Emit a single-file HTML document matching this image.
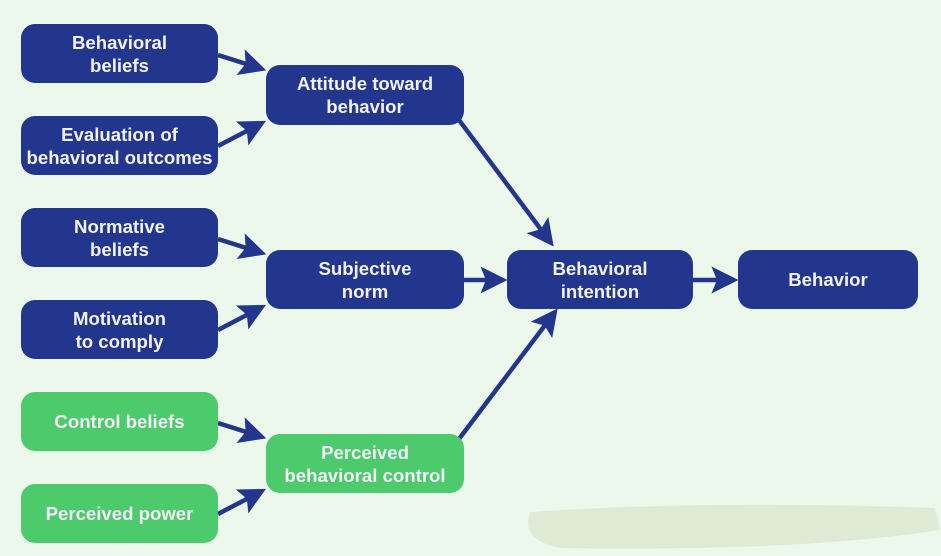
<!DOCTYPE html>
<html><head><style>
html,body{margin:0;padding:0}
body{width:941px;height:556px;background:#edf8ed;position:relative;overflow:hidden;font-family:"Liberation Sans",sans-serif}
.b{position:absolute;border-radius:14px;color:#f2f2f8;font-size:18.6px;font-weight:bold;line-height:23px;text-align:center;display:flex;align-items:center;justify-content:center;background:#22368e;white-space:nowrap}
.g{background:#4dca6b}
svg{position:absolute;left:0;top:0}
</style></head><body>
<svg width="941" height="556">
<defs><marker id="a" markerWidth="6" markerHeight="6" refX="5" refY="3" orient="auto" markerUnits="strokeWidth"><path d="M0,0 L6,3 L0,6 L1.2,3 z" fill="#22368e"/></marker></defs>
<path d="M530 512 Q700 500 935 508 L940 530 Q800 552 560 548 Q520 540 530 512z" fill="#dfead5"/>
<g stroke="#22368e" stroke-width="4.5" fill="none" marker-end="url(#a)">
<line x1="218" y1="55" x2="262" y2="69"/>
<line x1="218" y1="146" x2="262" y2="123"/>
<line x1="218" y1="239" x2="262" y2="253"/>
<line x1="218" y1="330" x2="262" y2="307"/>
<line x1="218" y1="423" x2="262" y2="437"/>
<line x1="218" y1="514" x2="262" y2="491"/>
<line x1="459" y1="120" x2="551" y2="243"/>
<line x1="464" y1="280" x2="503" y2="280"/>
<line x1="459" y1="439" x2="555" y2="312"/>
<line x1="693" y1="280" x2="734" y2="280"/>
</g>
</svg>
<div class="b" style="left:21px;top:24px;width:197px;height:59px">Behavioral<br>beliefs</div>
<div class="b" style="left:21px;top:116px;width:197px;height:59px">Evaluation of<br>behavioral outcomes</div>
<div class="b" style="left:266px;top:65px;width:198px;height:60px">Attitude toward<br>behavior</div>
<div class="b" style="left:21px;top:208px;width:197px;height:59px">Normative<br>beliefs</div>
<div class="b" style="left:21px;top:300px;width:197px;height:59px">Motivation<br>to comply</div>
<div class="b" style="left:266px;top:250px;width:198px;height:59px">Subjective<br>norm</div>
<div class="b" style="left:507px;top:250px;width:186px;height:59px">Behavioral<br>intention</div>
<div class="b" style="left:738px;top:250px;width:180px;height:59px">Behavior</div>
<div class="b g" style="left:21px;top:392px;width:197px;height:59px">Control beliefs</div>
<div class="b g" style="left:21px;top:484px;width:197px;height:59px">Perceived power</div>
<div class="b g" style="left:266px;top:434px;width:198px;height:59px">Perceived<br>behavioral control</div>
</body></html>
